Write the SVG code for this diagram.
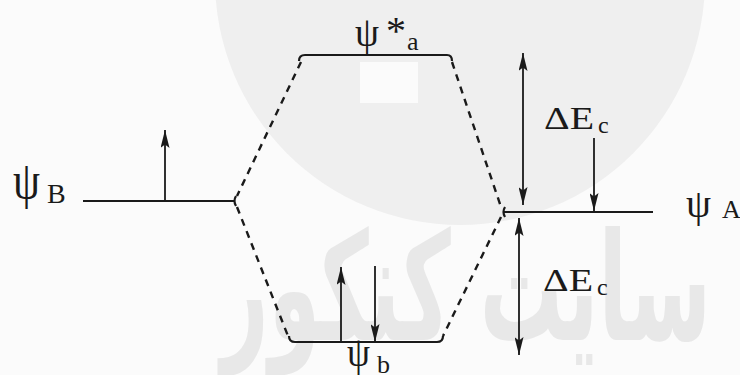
<svg xmlns="http://www.w3.org/2000/svg" width="740" height="375" viewBox="0 0 740 375">
  <defs>
    <marker id="ah" viewBox="0 0 20 10" refX="20" refY="5" markerWidth="20" markerHeight="9" orient="auto-start-reverse" markerUnits="userSpaceOnUse">
      <path d="M0,0 L20,5 L0,10 L4,5 z" fill="#1a1a1a"/>
    </marker>
    <style>
      .lvl { fill: none; stroke: #1a1a1a; stroke-width: 2.2; }
      .dash { fill: none; stroke: #1a1a1a; stroke-width: 2.4; stroke-dasharray: 7 6; }
      .arr { fill: none; stroke: #1a1a1a; stroke-width: 1.8; }
      .t { font-family: "Liberation Serif", "DejaVu Serif", serif; fill: #1a1a1a; }
    </style>
  </defs>

  <rect x="0" y="0" width="740" height="375" fill="#fbfbfb"/>

  <!-- watermark -->
  <g id="watermark">
    <circle cx="460" cy="-20" r="245" fill="#efefef"/>
    <rect x="360" y="62" width="58" height="41" fill="#fbfbfb"/>
    <text x="466" y="340" text-anchor="middle" font-family="DejaVu Sans, sans-serif" font-size="150" font-weight="bold" fill="#e8e8e8" textLength="490" lengthAdjust="spacingAndGlyphs">سایت کنکور</text>
  </g>

  <!-- connectors -->
  <g id="connectors">
    <path class="dash" d="M301,62 L237,196"/>
    <path class="dash" d="M237,207 L288,336"/>
    <path class="dash" d="M452,62 L501,207"/>
    <path class="dash" d="M501,217 L443,336"/>
  </g>

  <g id="psiB">
    <path class="lvl" d="M83,201 L234,201"/>
    <path class="lvl" d="M236,196 Q233,201 236,206"/>
    <line class="arr" x1="165" y1="201" x2="165" y2="130" marker-end="url(#ah)"/>
    <text class="t" x="13" y="198" font-size="52" textLength="27" lengthAdjust="spacingAndGlyphs">ψ</text>
    <text class="t" x="47" y="203" font-size="28">B</text>
  </g>

  <g id="psiAstar">
    <path class="lvl" d="M299,61 Q299,55 305,55 L447,55 Q452,55 452,61"/>
    <text class="t" x="355" y="46" font-size="43" textLength="24" lengthAdjust="spacingAndGlyphs">ψ</text>
    <text class="t" x="386" y="44" font-size="40">*</text>
    <text class="t" x="407" y="50" font-size="26">a</text>
  </g>

  <g id="psiA">
    <path class="lvl" d="M503,212 L653,212"/>
    <path class="lvl" d="M505,207 Q502,212 505,217"/>
    <text class="t" x="686" y="217" font-size="40" textLength="25" lengthAdjust="spacingAndGlyphs">ψ</text>
    <text class="t" x="722" y="218" font-size="26">A</text>
  </g>

  <g id="psib">
    <path class="lvl" d="M289,336 Q289,342 295,342 L437,342 Q443,342 443,336"/>
    <line class="arr" x1="341" y1="342" x2="341" y2="267" marker-end="url(#ah)"/>
    <line class="arr" x1="375" y1="266" x2="375" y2="342" marker-end="url(#ah)"/>
    <text class="t" x="347" y="366" font-size="43" textLength="23" lengthAdjust="spacingAndGlyphs">ψ</text>
    <text class="t" x="377" y="373" font-size="26">b</text>
  </g>

  <g id="energy">
    <line class="arr" x1="523" y1="53" x2="523" y2="205" marker-start="url(#ah)" marker-end="url(#ah)"/>
    <line class="arr" x1="594" y1="138" x2="594" y2="211" marker-end="url(#ah)"/>
    <text class="t" x="544" y="129" font-size="31" textLength="50" lengthAdjust="spacingAndGlyphs">ΔE</text>
    <text class="t" x="598" y="133" font-size="24">c</text>
    <line class="arr" x1="519" y1="218" x2="519" y2="355" marker-start="url(#ah)" marker-end="url(#ah)"/>
    <text class="t" x="543" y="291" font-size="31" textLength="50" lengthAdjust="spacingAndGlyphs">ΔE</text>
    <text class="t" x="597" y="295" font-size="24">c</text>
  </g>
</svg>
